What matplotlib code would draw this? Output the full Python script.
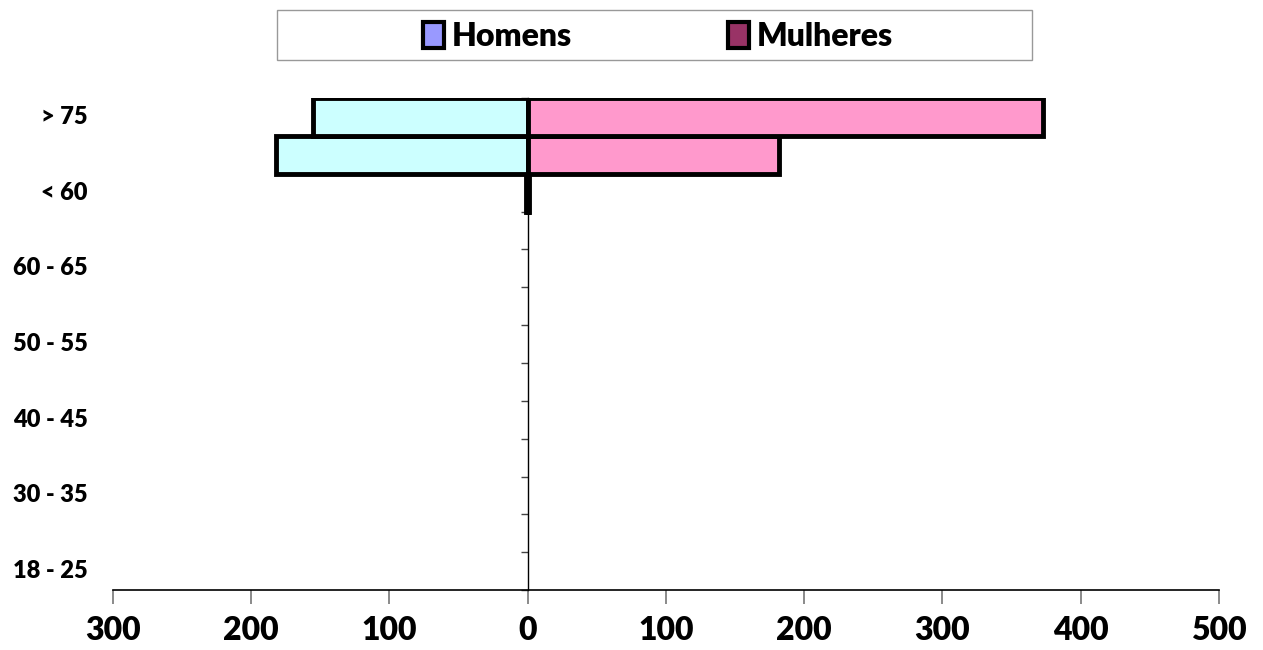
import matplotlib.pyplot as plt
import numpy as np
from matplotlib.patches import Patch, Rectangle
from matplotlib.ticker import FuncFormatter

plt.rcParams['font.family'] = ['Lato', 'DejaVu Sans']

# Data (bottom to top)
age_groups = ['18 - 25', '25 - 30', '30 - 35', '35 - 40', '40 - 45', '45 - 50', '50 - 55',
              '55 - 60', '60 - 65', '65 - 70', '< 60', '70 - 75', '> 75']
shown_labels = ['18 - 25', '30 - 35', '40 - 45', '50 - 55', '60 - 65', '< 60', '> 75']
homens = [0, 0, 0, 0, 0, 0, 0, 0, 0, 0, 1, 182, 155]
mulheres = [0, 0, 0, 0, 0, 0, 0, 0, 0, 0, 1, 182, 373]
x_ticks = [-300, -200, -100, 0, 100, 200, 300, 400, 500]

fig = plt.figure(figsize=(12.63, 6.5), dpi=100)
ax = fig.add_axes([0.0895, 0.0923, 0.8755, 0.7567])

y = np.arange(len(age_groups))
h = np.array(homens, dtype=float)
m = np.array(mulheres, dtype=float)
# empty groups are not drawn (no outline)
ax.barh(y[h > 0], -h[h > 0], height=1.0, color='#CCFFFF', edgecolor='black',
        linewidth=3.5, zorder=3)
ax.barh(y[m > 0], m[m > 0], height=1.0, color='#FF99CC', edgecolor='black',
        linewidth=3.5, zorder=3)

ax.set_xlim(-300, 500)
ax.set_ylim(-0.5, len(age_groups) - 0.5)

# axes styling
ax.spines['top'].set_visible(False)
ax.spines['right'].set_visible(False)
ax.spines['left'].set_position(('data', 0))
ax.spines['left'].set_linewidth(1)
ax.spines['bottom'].set_linewidth(1.2)

ax.set_yticks([])
ax.set_yticks(np.arange(-0.5, len(age_groups), 1), minor=True)
ax.tick_params(axis='y', which='minor', direction='out', length=5, width=1, color='#444444')

ax.set_xticks(x_ticks)
ax.xaxis.set_major_formatter(FuncFormatter(lambda v, p: f'{abs(int(v))}'))
ax.tick_params(axis='x', direction='out', length=10, width=1.2, color='#777777', pad=9,
               labelsize=23)
for lbl in ax.get_xticklabels():
    lbl.set_fontweight('heavy')

# category labels on the far left
for i, name in enumerate(age_groups):
    if name in shown_labels:
        ax.text(-0.023, i, name, transform=ax.get_yaxis_transform(), ha='right', va='center',
                fontsize=17, fontweight='heavy')

# legend with wide frame
fig.patches.append(Rectangle((0.2193, 0.908), 0.5978, 0.077, transform=fig.transFigure,
                             facecolor='white', edgecolor='#999999', linewidth=1))
handles = [Patch(facecolor='#9999FF', edgecolor='black', linewidth=3, label='Homens'),
           Patch(facecolor='#993366', edgecolor='black', linewidth=3, label='Mulheres')]
fig.legend(handles=handles, loc='center', bbox_to_anchor=(0.521, 0.944), ncol=2,
           frameon=False, prop={'size': 23, 'weight': 'heavy'}, handlelength=0.65,
           handleheight=0.85, handletextpad=0.25, columnspacing=4.9)

plt.savefig('out.png', dpi=100)
